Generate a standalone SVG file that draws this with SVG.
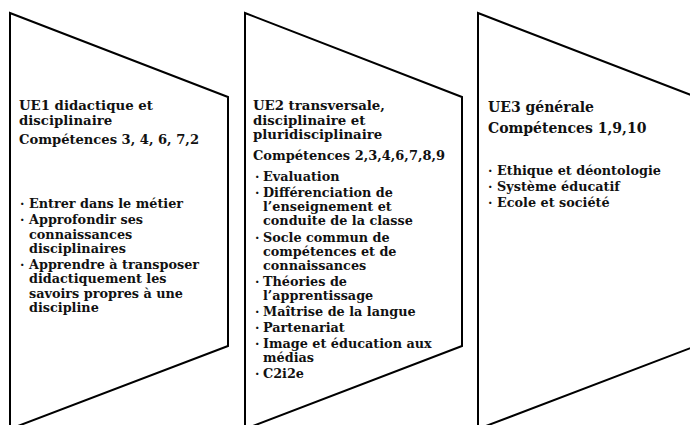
<svg xmlns="http://www.w3.org/2000/svg" width="690" height="425" viewBox="0 0 690 425">
<style>
.shape{fill:#fff;stroke:#000;stroke-width:2;stroke-linejoin:miter}
text{font-family:"DejaVu Serif","Liberation Serif",serif;font-weight:bold;font-size:12.8px;fill:#111}
.h{font-size:13.3px}
.h3{font-size:14px}
</style>
<rect width="690" height="425" fill="#fff"/>
<g id="ue1">
<polygon class="shape" points="10,13 228,97 228,346 10,429"/>
<text class="h" x="19" y="110">UE1 didactique et</text>
<text class="h" x="19" y="125">disciplinaire</text>
<text class="h" x="19" y="143.5" textLength="180" lengthAdjust="spacingAndGlyphs">Compétences 3, 4, 6, 7,2</text>
<text x="20" y="208">·</text><text x="29" y="208">Entrer dans le métier</text>
<text x="20" y="224">·</text><text x="29" y="224">Approfondir ses</text>
<text x="29" y="238.5">connaissances</text>
<text x="29" y="253">disciplinaires</text>
<text x="20" y="268.5">·</text><text x="29" y="268.5">Apprendre à transposer</text>
<text x="29" y="283">didactiquement les</text>
<text x="29" y="297.5">savoirs propres à une</text>
<text x="29" y="312">discipline</text>
</g>
<g id="ue2">
<polygon class="shape" points="245,13 462,97 462,346 245,429"/>
<text class="h" x="253" y="110">UE2 transversale,</text>
<text class="h" x="253" y="124.5">disciplinaire et</text>
<text class="h" x="253" y="139">pluridisciplinaire</text>
<text class="h" x="253" y="160" textLength="192" lengthAdjust="spacingAndGlyphs">Compétences 2,3,4,6,7,8,9</text>
<text x="255" y="181">·</text><text x="263" y="181">Evaluation</text>
<text x="255" y="197">·</text><text x="263" y="197">Différenciation de</text>
<text x="263" y="211">l’enseignement et</text>
<text x="263" y="225">conduite de la classe</text>
<text x="255" y="242">·</text><text x="263" y="242">Socle commun de</text>
<text x="263" y="256">compétences et de</text>
<text x="263" y="270">connaissances</text>
<text x="255" y="286">·</text><text x="263" y="286">Théories de</text>
<text x="263" y="300">l’apprentissage</text>
<text x="255" y="316">·</text><text x="263" y="316">Maîtrise de la langue</text>
<text x="255" y="332">·</text><text x="263" y="332">Partenariat</text>
<text x="255" y="348">·</text><text x="263" y="348">Image et éducation aux</text>
<text x="263" y="362">médias</text>
<text x="255" y="378">·</text><text x="263" y="378">C2i2e</text>
</g>
<g id="ue3">
<polygon class="shape" points="478,13 696,97 696,346 478,429"/>
<text class="h3" x="488" y="112">UE3 générale</text>
<text class="h3" x="488" y="133">Compétences 1,9,10</text>
<text x="488" y="175">·</text><text x="497" y="175">Ethique et déontologie</text>
<text x="488" y="191">·</text><text x="497" y="191">Système éducatif</text>
<text x="488" y="207">·</text><text x="497" y="207">Ecole et société</text>
</g>
<g id="connectors"></g>
</svg>
